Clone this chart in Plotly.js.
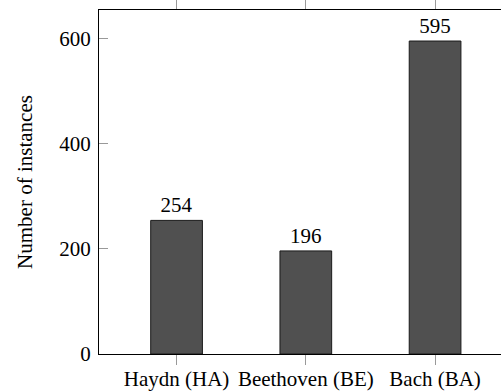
<!DOCTYPE html>
<html>
<head>
<meta charset="utf-8">
<script src="https://cdn.plot.ly/plotly-3.0.1.min.js"></script>
<style>html,body{margin:0;padding:0;background:#fff;}#chart{width:501px;height:391px;}</style>
</head>
<body>
<div id="chart"></div>
<script>
const categories = ["Haydn (HA)", "Beethoven (BE)", "Bach (BA)"];
const instances = [254, 196, 595];
const yTicks = [0, 200, 400, 600];

const font = {family: "Liberation Serif", size: 21, color: "#000"};

Plotly.newPlot("chart", [{
  type: "bar",
  x: categories,
  y: instances,
  text: instances.map(String),
  textposition: "outside",
  cliponaxis: false,
  textfont: font,
  width: 0.4,
  marker: {color: "#505050", line: {color: "#1a1a1a", width: 1}},
  hoverinfo: "skip"
}], {
  width: 501, height: 391,
  margin: {l: 99, r: 0, t: 10, b: 37},
  paper_bgcolor: "#fff", plot_bgcolor: "#fff",
  font: font,
  showlegend: false,
  xaxis: {
    type: "category",
    range: [-0.6, 2.51],
    showline: true, linecolor: "#000", linewidth: 1,
    mirror: "ticks",
    ticks: "outside", ticklen: 10, tickcolor: "#999", tickwidth: 1,
    ticklabelstandoff: -4,
    showgrid: false, zeroline: false,
    tickfont: font
  },
  yaxis: {
    range: [0, 654],
    tickvals: yTicks,
    showline: true, linecolor: "#000", linewidth: 1,
    ticks: "inside", ticklen: 9, tickcolor: "#999", tickwidth: 1,
    ticklabelstandoff: 3,
    showgrid: false, zeroline: false,
    tickfont: font,
    title: {text: "Number of instances", font: font, standoff: 20}
  }
}, {staticPlot: true, displayModeBar: false});
</script>
</body>
</html>
